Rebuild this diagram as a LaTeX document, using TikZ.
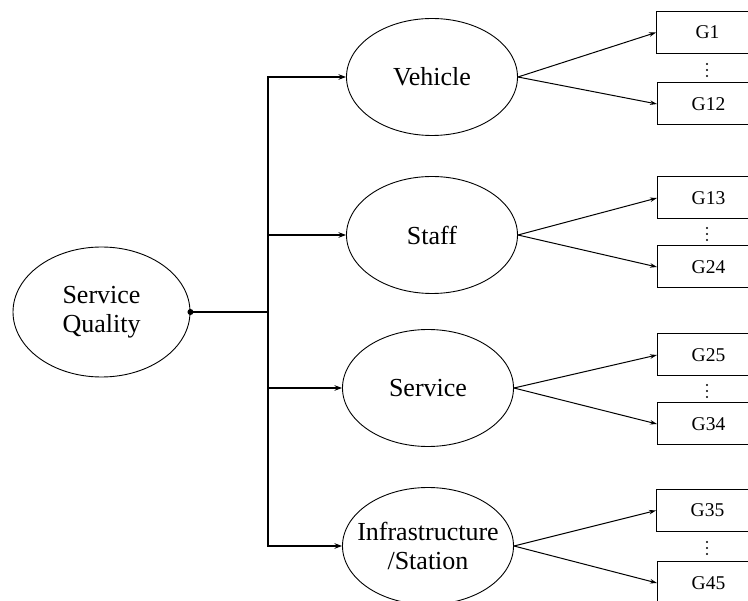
\documentclass[tikz,border=0pt]{standalone}
\usepackage{fontspec}
\setmainfont{Liberation Serif}
\usetikzlibrary{shapes.geometric,arrows.meta}
\begin{document}
\begin{tikzpicture}[x=1pt,y=-1pt,
  ell/.style={draw,ellipse,line width=0.9pt,inner sep=0pt,minimum width=171pt,minimum height=117pt,align=center,font=\fontsize{26}{29}\selectfont},
  gbox/.style={draw,rectangle,line width=1pt,inner sep=0pt,minimum width=102pt,minimum height=42pt,anchor=west,font=\fontsize{19.5}{22}\selectfont},
  tree/.style={line width=1.6pt},
  tip/.style={-{Stealth[length=7.5pt,width=5.5pt]}},
  thin arrow/.style={line width=1pt,-{Stealth[length=7pt,width=4.5pt]}},
  vdot/.style={fill=black}
]
\useasboundingbox (0,0) rectangle (748,601);
\node[ell,minimum width=177pt,minimum height=130pt] (sq) at (101.5,312) {Service\\Quality};
\node[ell] (veh) at (432,77) {Vehicle};
\node[ell] (stf) at (432,235) {Staff};
\node[ell] (srv) at (428,388) {Service};
\node[ell] (inf) at (428,546) {\makebox[110pt][c]{Infrastructure}\\\makebox[110pt][c]{/Station}};
\coordinate (j) at (268,312);
\fill (sq.east) circle (3pt);
\draw[tree] (sq.east) -- (j);
\draw[tree,tip] (j) |- (veh.west);
\draw[tree,tip] (j) |- (stf.west);
\draw[tree,tip] (j) |- (srv.west);
\draw[tree,tip] (j) |- (inf.west);
% boxes
\node[gbox] (g1) at (656,32.5) {G1};
\node[gbox] (g12) at (657,104) {G12};
\node[gbox] (g13) at (657,198) {G13};
\node[gbox] (g24) at (657,267) {G24};
\node[gbox] (g25) at (657,355) {G25};
\node[gbox] (g34) at (657,424) {G34};
\node[gbox] (g35) at (656,510.5) {G35};
\node[gbox] (g45) at (657,583) {G45};
\coordinate (d1) at (707,70);
\coordinate (d2) at (707,234);
\coordinate (d3) at (707,391);
\coordinate (d4) at (707,548);
\foreach \d in {d1,d2,d3,d4}{
  \foreach \k in {-6,0,6} \fill[vdot] ([yshift=\k pt]\d) circle (1.2pt);
}
\draw[thin arrow] (veh.east) -- (g1.west);
\draw[thin arrow] (veh.east) -- (g12.west);
\draw[thin arrow] (stf.east) -- (g13.west);
\draw[thin arrow] (stf.east) -- (g24.west);
\draw[thin arrow] (srv.east) -- (g25.west);
\draw[thin arrow] (srv.east) -- (g34.west);
\draw[thin arrow] (inf.east) -- (g35.west);
\draw[thin arrow] (inf.east) -- (g45.west);
\end{tikzpicture}
\end{document}
